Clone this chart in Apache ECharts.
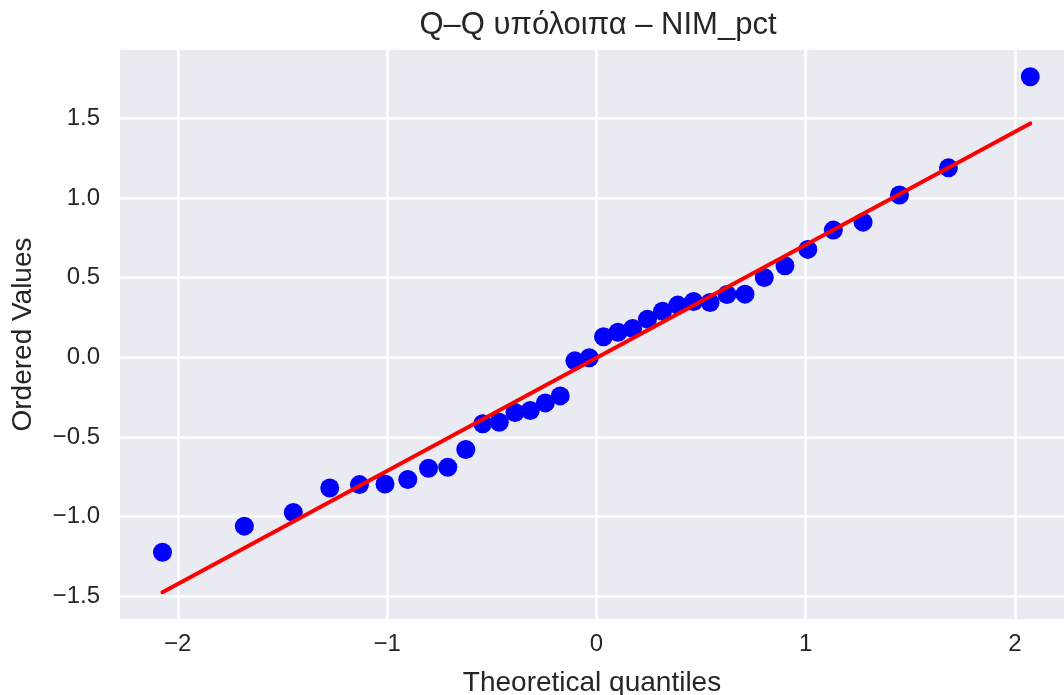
<!DOCTYPE html>
<html>
<head>
<meta charset="utf-8">
<script src="https://cdn.jsdelivr.net/npm/echarts@6/dist/echarts.min.js"></script>
<style>
html,body{margin:0;padding:0;background:#fff;}
#chart{width:1064px;height:695px;}
</style>
</head>
<body>
<div id="chart"></div>
<script>
// Theoretical quantiles
const theoretical = [-2.073,-1.682,-1.448,-1.274,-1.132,-1.010,-0.901,-0.802,-0.710,-0.624,-0.543,-0.464,-0.389,-0.316,-0.244,-0.173,-0.103,-0.034,
  0.034,0.103,0.173,0.244,0.316,0.389,0.464,0.543,0.624,0.710,0.802,0.901,1.010,1.132,1.274,1.448,1.682,2.073];
// Ordered residual values
const ordered = [-1.224,-1.060,-0.974,-0.820,-0.799,-0.795,-0.767,-0.696,-0.690,-0.579,-0.417,-0.407,-0.346,-0.334,-0.286,-0.242,-0.022,-0.003,
  0.129,0.158,0.181,0.240,0.290,0.328,0.351,0.345,0.395,0.397,0.502,0.575,0.678,0.799,0.849,1.019,1.190,1.762];
// Fit line end points
const fitX = [-2.073, 2.073];
const fitY = [-1.475, 1.469];
// Tick labels
const xTicks = [-2,-1,0,1,2];
const yTicks = [-1.5,-1.0,-0.5,0.0,0.5,1.0,1.5];

const titleText = 'Q–Q υπόλοιπα – NIM_pct';
const xName = 'Theoretical quantiles';
const yName = 'Ordered Values';

const font = '"Liberation Sans", Arial, sans-serif';
const textColor = '#262626';
const minus = s => String(s).replace('-', '\u2212');

const chart = echarts.init(document.getElementById('chart'), null, {renderer:'canvas'});
chart.setOption({
  animation:false,
  backgroundColor:'#ffffff',
  title:{
    text:titleText, left:593, top:5, textAlign:'center',
    textStyle:{fontFamily:font, fontSize:31, fontWeight:'normal', color:textColor}
  },
  grid:{left:120, right:0, top:50, bottom:76, show:true, backgroundColor:'#EAEAF2', borderWidth:0,
    containLabel:false, outerBoundsMode:'none'},
  xAxis:{
    type:'value', min:-2.276, max:2.234,
    name:xName, nameLocation:'middle', nameGap:50,
    nameTextStyle:{fontFamily:font, fontSize:28, color:textColor},
    axisLine:{show:false},
    axisTick:{show:false, customValues:xTicks},
    axisLabel:{customValues:xTicks, margin:13, fontFamily:font, fontSize:24, color:textColor,
      formatter:v=>minus(Math.round(v))},
    splitLine:{show:true, lineStyle:{color:'#ffffff', width:2.5}}
  },
  yAxis:{
    type:'value', min:-1.643, max:1.930,
    name:yName, nameLocation:'middle', nameGap:83, nameRotate:90,
    nameTextStyle:{fontFamily:font, fontSize:28, color:textColor},
    axisLine:{show:false},
    axisTick:{show:false, customValues:yTicks},
    axisLabel:{customValues:yTicks, margin:20, fontFamily:font, fontSize:24, color:textColor,
      formatter:v=>minus(v.toFixed(1))},
    splitLine:{show:true, lineStyle:{color:'#ffffff', width:2.5}}
  },
  series:[
    {
      type:'scatter', data:theoretical.map((x,i)=>[x, ordered[i]]),
      symbol:'circle', symbolSize:19,
      itemStyle:{color:'#0000FF', opacity:1}, z:2
    },
    {
      type:'line', data:fitX.map((x,i)=>[x, fitY[i]]),
      symbol:'none', lineStyle:{color:'#FF0000', width:4, cap:'round'}, z:3
    }
  ]
});
</script>
</body>
</html>
